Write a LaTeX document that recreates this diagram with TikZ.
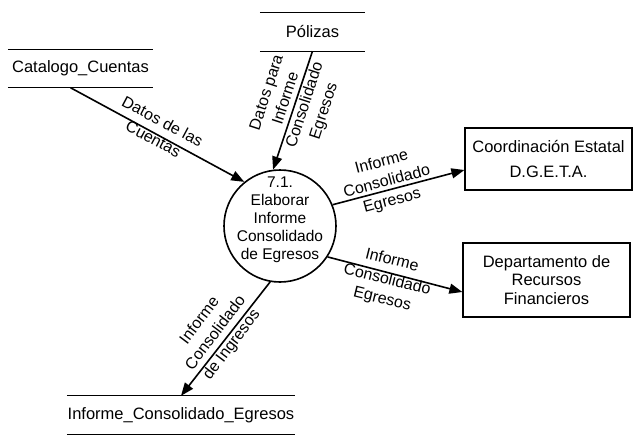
\documentclass[tikz,border=0pt]{standalone}
\usepackage{fontspec}
\setmainfont{Liberation Sans}
\usetikzlibrary{arrows.meta}

\begin{document}
\begin{tikzpicture}[x=1pt, y=-1pt,
        every node/.style={font=\fontsize{16.5}{18.5}\selectfont, align=center},
        store/.style={minimum height=38pt, inner sep=0pt},
        proc/.style={circle, draw, line width=1.6pt, minimum size=112pt, inner sep=0pt},
        ext/.style={draw, line width=1.2pt, inner sep=0pt},
        flow/.style={line width=1.6pt, -{Triangle[length=13pt,width=10pt]}},
        lbl/.style={inner sep=0pt, font=\fontsize{16}{20}\selectfont}]
        \useasboundingbox (0,0) rectangle (638,442);
        % almacenes
        \node[store, minimum width=145pt] (cat) at (80.5,68.5) {Catalogo\_Cuentas};
        \node[store, minimum width=105pt] (pol) at (312.5,32) {Pólizas};
        \node[store, minimum width=228pt] (ice) at (181,415) {Informe\_Consolidado\_Egresos};
        \foreach \s in {cat, pol, ice}
                \draw[line width=1.2pt] (\s.north west) -- (\s.north east) (\s.south west) -- (\s.south east);
        % proceso
        \node[proc] (proc) at (280,226) {};
        \node[inner sep=0pt, font=\fontsize{15.5}{18}\selectfont] (proct) at (280,220) {7.1.\\Elaborar\\Informe\\Consolidado\\de Egresos};
        % entidades externas
        \node[ext, minimum width=167pt, minimum height=62pt] (coor) at (548.5,159) {Coordinación Estatal\\[6pt]D.G.E.T.A.};
        \node[ext, minimum width=167pt, minimum height=74pt] (dep) at (546.5,280) {Departamento de\\Recursos\\Financieros};
        % flujos
        \draw[flow] ([xshift=-10pt]cat.south) -- (proc.129);
        \draw[flow] (pol.south) -- (proc.97);
        \draw[flow] (proc.22) -- ([yshift=-11pt]coor.west);
        \draw[flow] (proc.-33) -- ([yshift=-12pt]dep.west);
        \draw[flow] (proc.-100) -- (ice.north);
        \node[lbl, rotate=-28] (l1) at (158,130) {Datos de las\\Cuentas};
        \node[lbl, rotate=72] (l2) at (296,102) {Datos para\\Informe\\Consolidado\\Egresos};
        \node[lbl, rotate=15] (l3) at (387,182) {Informe\\Consolidado\\Egresos};
        \node[lbl, rotate=-14] (l4) at (387,280) {Informe\\Consolidado\\Egresos};
        \node[lbl, rotate=53] (l5) at (216,333) {Informe\\Consolidado\\de Ingresos};
\end{tikzpicture}
\end{document}
